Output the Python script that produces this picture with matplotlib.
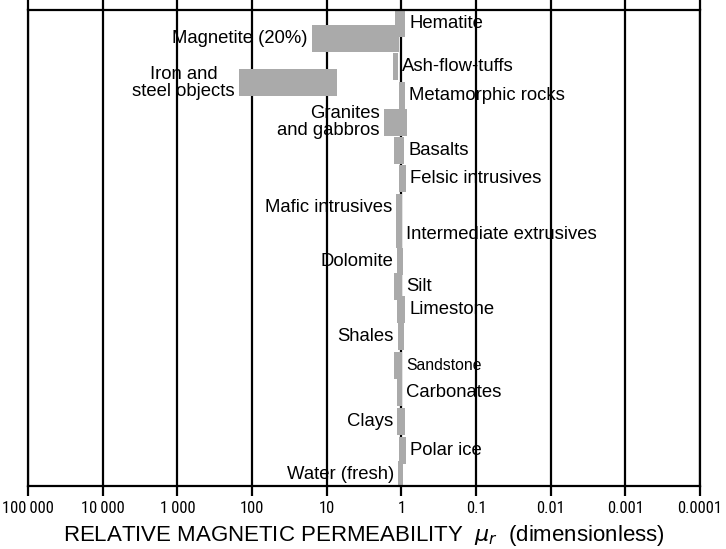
import matplotlib
matplotlib.use("Agg")
import matplotlib.pyplot as plt
from matplotlib import font_manager
from matplotlib.ticker import FixedLocator, NullLocator

plt.rcParams["font.family"] = ["Liberation Sans", "DejaVu Sans"]

# rock / material names, as printed
materials = [
    "Hematite", "Magnetite (20%)", "Ash-flow-tuffs", "Iron and\nsteel objects",
    "Metamorphic rocks", "Granites\nand gabbros", "Basalts", "Felsic intrusives",
    "Mafic intrusives", "Intermediate extrusives", "Dolomite", "Silt",
    "Limestone", "Shales", "Sandstone", "Carbonates", "Clays", "Polar ice",
    "Water (fresh)",
]
# row of each bar (rows overlap a little in the original figure)
rows = [0.5, 1.05, 2.1, 2.7, 3.15, 4.15, 5.2, 6.25, 7.3, 8.3, 9.3, 10.25,
        11.1, 12.1, 13.15, 14.15, 15.25, 16.3, 17.2]
# permeability range: lower and upper value
mu_low = [0.89, 1.07, 1.11, 7.3, 0.89, 0.84, 0.92, 0.865, 0.98, 0.98, 0.95,
          0.98, 0.89, 0.92, 0.98, 0.98, 0.89, 0.865, 0.95]
mu_high = [1.21, 15.7, 1.29, 149, 1.07, 1.71, 1.25, 1.07, 1.18, 1.18, 1.14,
           1.25, 1.14, 1.11, 1.25, 1.14, 1.14, 1.07, 1.11]
# which side of the bar the label sits on
label_side = ["R", "L", "R", "L", "R", "L", "R", "R", "L", "R", "L", "R",
              "R", "L", "R", "R", "L", "R", "L"]

tick_values = [1e5, 1e4, 1e3, 1e2, 1e1, 1, 0.1, 0.01, 0.001, 0.0001]
tick_labels = ["100\u2009000", "10\u2009000", "1\u2009000", "100", "10", "1",
               "0.1", "0.01", "0.001", "0.0001"]


# narrow font for the tick numbers, if one is installed
installed = {f.name for f in font_manager.fontManager.ttflist}
narrow = "Liberation Sans"
for cand in ["Liberation Sans Narrow", "DejaVu Sans Condensed", "Roboto Condensed"]:
    if cand in installed:
        narrow = cand
        break

fig = plt.figure(figsize=(7.26, 5.49), dpi=100)
ax = fig.add_axes([0.0386, 0.1148, 0.9256, 0.867])

ax.set_xscale("log")
ax.set_xlim(1e5, 1e-4)
ax.set_ylim(17.63, 0)

# vertical decade lines
for v in tick_values:
    ax.axvline(v, color="black", lw=1.6, zorder=1)

for name, r, lo, hi, side in zip(materials, rows, mu_low, mu_high, label_side):
    ax.barh(r, hi - lo, left=lo, height=1.0, color="#aaaaaa",
            edgecolor="none", zorder=2)
    size = 11.3 if name == "Sandstone" else 13.3
    if side == "R":
        ax.annotate(name, xy=(lo, r), xytext=(3, 0), textcoords="offset points",
                    ha="left", va="center", fontsize=size, linespacing=0.95,
                    zorder=3)
    else:
        ax.annotate(name, xy=(hi, r), xytext=(-3, 0), textcoords="offset points",
                    ha="right", va="center", fontsize=size, linespacing=0.95,
                    multialignment="center" if name.startswith("Iron") else "right",
                    zorder=3)

ax.xaxis.set_major_locator(FixedLocator(tick_values))
ax.xaxis.set_minor_locator(NullLocator())
ax.set_xticklabels(tick_labels, family=[narrow, "DejaVu Sans"], fontsize=12)
ax.tick_params(axis="x", direction="out", length=7, width=1.6, top=True,
               pad=4)
ax.set_yticks([])

for s in ax.spines.values():
    s.set_linewidth(1.6)

ax.set_xlabel(r"RELATIVE MAGNETIC PERMEABILITY  $\mu_r$  (dimensionless)",
              fontsize=16, labelpad=5)

plt.savefig("out.png", dpi=100)
